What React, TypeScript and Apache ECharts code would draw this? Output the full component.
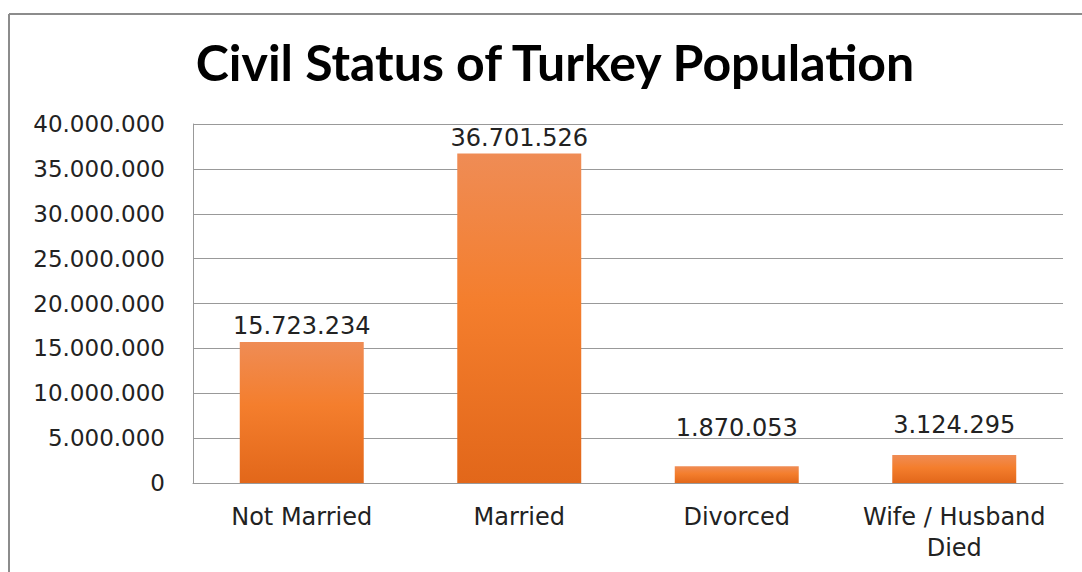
import React, { useEffect, useRef } from "react";
import * as echarts from "echarts";

const categories = ["Not Married", "Married", "Divorced", "Wife / Husband\nDied"];
const values = [15723234, 36701526, 1870053, 3124295];
const titleText = "Civil Status of Turkey Population";

// manual label nudges (as in the original, the small bars' labels are raised)
const labelLift = [0, 0, -22, -14];

const fmt = (v: number) => String(Math.round(v)).replace(/\B(?=(\d{3})+(?!\d))/g, ".");

export default function App() {
  const ref = useRef<HTMLDivElement>(null);
  useEffect(() => {
    if (!ref.current) return;
    const chart = echarts.init(ref.current, null, { renderer: "svg" });
    chart.setOption({
      animation: false,
      backgroundColor: "#ffffff",
      title: {
        text: titleText,
        left: 550,
        textAlign: "center",
        top: 32,
        textStyle: { fontFamily: "Lato", fontWeight: "bold", fontSize: 50, color: "#000" },
      },
      graphic: [
        { type: "line", shape: { x1: 9, y1: 14, x2: 1082, y2: 14 }, style: { stroke: "#8c8c8c", lineWidth: 2 } },
        { type: "line", shape: { x1: 9, y1: 14, x2: 9, y2: 572 }, style: { stroke: "#8c8c8c", lineWidth: 2 } },
      ],
      grid: { left: 193, right: 19, top: 124, bottom: 89, containLabel: false },
      xAxis: {
        type: "category",
        data: categories,
        axisLine: { show: true, lineStyle: { color: "#999", width: 1 } },
        axisTick: { show: false },
        axisLabel: {
          margin: 18,
          fontFamily: "DejaVu Sans",
          fontSize: 24,
          lineHeight: 31,
          color: "#222",
          interval: 0,
        },
      },
      yAxis: {
        type: "value",
        min: 0,
        max: 40000000,
        interval: 5000000,
        axisLine: { show: true, lineStyle: { color: "#999", width: 1 } },
        axisTick: { show: false },
        splitLine: { show: true, lineStyle: { color: "#999", width: 1 } },
        axisLabel: {
          margin: 28,
          fontFamily: "DejaVu Sans",
          fontSize: 23,
          color: "#222",
          formatter: (v: number) => fmt(v),
        },
      },
      series: [
        {
          type: "bar",
          data: values.map((v, i) => ({ value: v, label: { offset: [0, labelLift[i]] } })),
          barWidth: "57%",
          itemStyle: {
            color: new echarts.graphic.LinearGradient(0, 0, 0, 1, [
              { offset: 0, color: "#EF8C55" },
              { offset: 0.45, color: "#F47E2D" },
              { offset: 1, color: "#E2671A" },
            ]),
          },
          label: {
            show: true,
            position: "top",
            distance: 4,
            fontFamily: "DejaVu Sans",
            fontSize: 24,
            color: "#222",
            formatter: (p: any) => fmt(p.value),
          },
        },
      ],
    });
    return () => chart.dispose();
  }, []);
  return <div ref={ref} style={{ position: "fixed", left: 0, top: 0, width: 1082, height: 572 }} />;
}
